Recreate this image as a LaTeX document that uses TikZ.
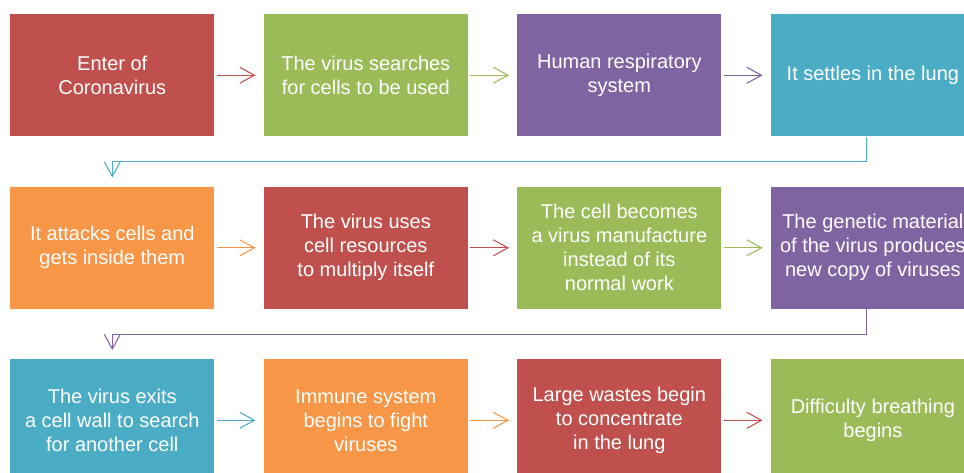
\documentclass[tikz,border=0pt]{standalone}
\usepackage{fontspec}
\setmainfont{Liberation Sans}
\usetikzlibrary{arrows.meta, positioning}

\definecolor{boxred}{HTML}{C0504D}
\definecolor{boxgreen}{HTML}{9BBB59}
\definecolor{boxpurple}{HTML}{8064A2}
\definecolor{boxblue}{HTML}{4BACC6}
\definecolor{boxorange}{HTML}{F79646}

\tikzset{
    stage/.style={rectangle, minimum width=153pt, minimum height=91.5pt, inner sep=0pt,
        text=white, align=center, font=\fontsize{15}{18}\selectfont},
    flow/.style={line width=0.8pt, arrows={-Straight Barb[length=11pt, width=12pt]}},
}

\begin{document}
\begin{tikzpicture}[node distance=37.5pt and 36.75pt]
    \useasboundingbox (0,0) rectangle (723pt,-354.75pt);
    \clip (0,0) rectangle (723pt,-354.75pt);

    % Nodes
    \node[stage, fill=boxred, anchor=north west] (enter) at (7.5pt,-10.5pt) {Enter of\\Coronavirus};
    \node[stage, fill=boxgreen, right=of enter] (search) {The virus searches\\for cells to be used};
    \node[stage, fill=boxpurple, right=of search] (resp) {Human respiratory\\system};
    \node[stage, fill=boxblue, right=of resp] (lung) {It settles in the lung};

    \node[stage, fill=boxorange, below=of enter] (attack) {It attacks cells and\\gets inside them};
    \node[stage, fill=boxred, right=of attack] (uses) {The virus uses\\cell resources\\to multiply itself};
    \node[stage, fill=boxgreen, right=of uses] (factory) {The cell becomes\\a virus manufacture\\instead of its\\normal work};
    \node[stage, fill=boxpurple, right=of factory] (genetic) {The genetic material\\of the virus produces\\new copy of viruses};

    \node[stage, fill=boxblue, below=of attack] (exits) {The virus exits\\a cell wall to search\\for another cell};
    \node[stage, fill=boxorange, right=of exits] (immune) {Immune system\\begins to fight\\viruses};
    \node[stage, fill=boxred, right=of immune] (wastes) {Large wastes begin\\to concentrate\\in the lung};
    \node[stage, fill=boxgreen, right=of wastes] (breath) {Difficulty breathing\\begins};

    % Connections
    \draw[flow, boxred, shorten <=1.5pt, shorten >=6pt] (enter) -- (search);
    \draw[flow, boxgreen, shorten <=1.5pt, shorten >=6pt] (search) -- (resp);
    \draw[flow, boxpurple, shorten <=1.5pt, shorten >=6pt] (resp) -- (lung);
    \draw[flow, boxblue, shorten >=6.75pt] ([xshift=-4.5pt]lung.south) -- ++(0,-18.75pt) -| (attack.north);

    \draw[flow, boxorange, shorten <=1.5pt, shorten >=6pt] (attack) -- (uses);
    \draw[flow, boxred, shorten <=1.5pt, shorten >=6pt] (uses) -- (factory);
    \draw[flow, boxgreen, shorten <=1.5pt, shorten >=6pt] (factory) -- (genetic);
    \draw[flow, boxpurple, shorten >=6.75pt] ([xshift=-4.5pt]genetic.south) -- ++(0,-18.75pt) -| (exits.north);

    \draw[flow, boxblue, shorten <=1.5pt, shorten >=6pt] (exits) -- (immune);
    \draw[flow, boxorange, shorten <=1.5pt, shorten >=6pt] (immune) -- (wastes);
    \draw[flow, boxred, shorten <=1.5pt, shorten >=6pt] (wastes) -- (breath);
\end{tikzpicture}
\end{document}
